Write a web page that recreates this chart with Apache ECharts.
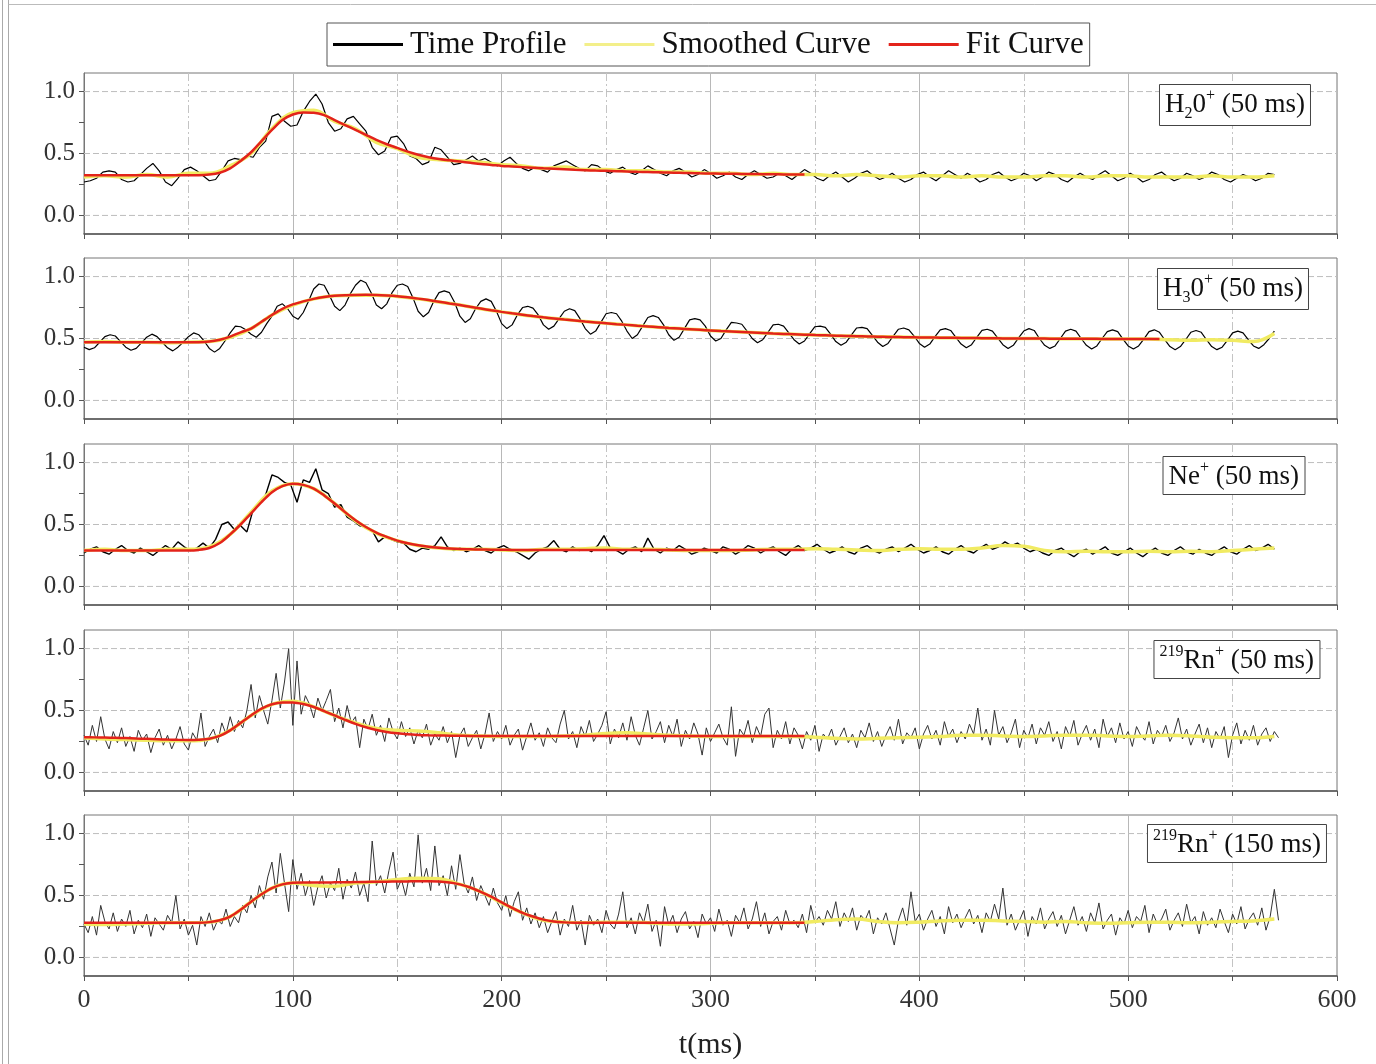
<!DOCTYPE html>
<html>
<head>
<meta charset="utf-8">
<script src="https://cdn.jsdelivr.net/npm/echarts@6/dist/echarts.min.js"></script>
<style>
html,body{margin:0;padding:0;background:#fff;}
#chart{width:1376px;height:1064px;}
</style>
</head>
<body>
<div id="chart"></div>
<script>
// ---------------- DATA ----------------
const SERIES_NAMES = ['Time Profile', 'Smoothed Curve', 'Fit Curve'];
const X_TICKS = [0, 100, 200, 300, 400, 500, 600];
const Y_LABELS = [0, 0.5, 1.0];
const Y_TICKS = [0, 0.25, 0.5, 0.75, 1.0];

const STEP_H2O = 3, STEP_H3O = 2.5, STEP_NE = 3, STEP_RN = 2;
const STEP_SMOOTH = 10, STEP_FIT = 5;

const h2oProfile = [
0.27,0.28,0.30,0.35,0.36,0.35,0.29,0.27,0.28,0.33,
0.38,0.42,0.36,0.27,0.24,0.30,0.37,0.39,0.36,0.32,
0.28,0.29,0.36,0.44,0.46,0.45,0.48,0.47,0.55,0.60,
0.80,0.82,0.76,0.72,0.73,0.84,0.92,0.98,0.90,0.75,
0.68,0.70,0.78,0.80,0.74,0.68,0.55,0.49,0.52,0.63,
0.64,0.58,0.48,0.46,0.41,0.43,0.55,0.53,0.47,0.41,
0.42,0.45,0.48,0.44,0.46,0.43,0.40,0.44,0.47,0.42,
0.38,0.36,0.39,0.37,0.35,0.40,0.42,0.44,0.41,0.38,
0.36,0.41,0.40,0.36,0.34,0.37,0.39,0.35,0.33,0.36,
0.40,0.37,0.34,0.32,0.36,0.38,0.35,0.31,0.33,0.37,
0.34,0.30,0.32,0.35,0.31,0.29,0.33,0.36,0.33,0.30,
0.31,0.34,0.32,0.29,0.33,0.37,0.34,0.30,0.28,0.32,
0.35,0.31,0.27,0.30,0.34,0.36,0.32,0.29,0.31,0.34,
0.30,0.27,0.29,0.33,0.35,0.31,0.28,0.32,0.36,0.33,
0.30,0.34,0.31,0.27,0.29,0.33,0.35,0.31,0.28,0.30,
0.34,0.32,0.28,0.31,0.35,0.33,0.29,0.27,0.31,0.34,
0.31,0.29,0.33,0.36,0.32,0.28,0.30,0.34,0.31,0.27,
0.29,0.33,0.35,0.31,0.28,0.30,0.34,0.32,0.29,0.31,
0.35,0.33,0.29,0.27,0.30,0.33,0.31,0.28,0.30,0.34,
0.33];
const h2oSmooth = [0.31,0.32,0.31,0.33,0.31,0.34,0.34,0.40,0.50,0.70,
0.83,0.85,0.76,0.70,0.59,0.54,0.47,0.45,0.44,0.43,
0.41,0.40,0.38,0.39,0.37,0.37,0.36,0.36,0.35,0.35,
0.34,0.34,0.33,0.34,0.33,0.33,0.32,0.33,0.32,0.31,
0.32,0.32,0.31,0.32,0.31,0.31,0.32,0.32,0.31,0.32,
0.32,0.31,0.31,0.31,0.32,0.31,0.31,0.32];
const h2oFit = [0.325,0.325,0.325,0.325,0.325,0.325,0.325,0.325,0.325,0.325,0.325,0.325,
0.33,0.345,0.38,0.44,0.51,0.60,0.69,0.77,0.815,0.832,
0.83,0.81,0.77,0.73,0.69,0.65,0.61,0.575,0.545,0.515,
0.49,0.47,0.455,0.445,0.435,0.425,0.415,0.408,0.40,0.395,
0.39,0.385,0.38,0.376,0.372,0.368,0.365,0.362,0.36,0.357,
0.355,0.352,0.35,0.348,0.346,0.344,0.342,0.34,0.339,0.337,
0.336,0.335,0.334,0.333,0.332,0.331,0.33,0.33];

const h3oProfile = [
0.43,0.41,0.425,0.47,0.515,
0.53,0.52,0.475,0.43,0.405,0.42,0.465,0.51,
0.535,0.515,0.47,0.425,0.40,0.43,0.47,0.515,
0.545,0.53,0.48,0.42,0.39,0.42,0.48,0.545,
0.60,0.595,0.57,0.535,0.51,0.55,0.62,0.68,
0.76,0.78,0.74,0.68,0.655,0.71,0.80,0.90,
0.94,0.93,0.85,0.76,0.725,0.77,0.86,0.93,
0.97,0.95,0.87,0.77,0.74,0.78,0.87,0.93,
0.94,0.92,0.83,0.72,0.675,0.71,0.80,0.87,
0.885,0.87,0.79,0.68,0.63,0.66,0.74,0.80,
0.82,0.80,0.72,0.62,0.58,0.61,0.69,0.75,
0.76,0.745,0.69,0.61,0.575,0.60,0.66,0.72,
0.74,0.725,0.66,0.58,0.535,0.56,0.63,0.70,
0.71,0.70,0.64,0.56,0.50,0.53,0.60,0.67,
0.685,0.67,0.61,0.53,0.485,0.51,0.58,0.65,
0.66,0.65,0.60,0.52,0.48,0.50,0.57,0.63,
0.625,0.615,0.56,0.50,0.465,0.49,0.55,0.61,
0.615,0.60,0.545,0.49,0.455,0.48,0.54,0.595,
0.60,0.59,0.535,0.475,0.445,0.47,0.53,0.585,
0.59,0.58,0.525,0.47,0.435,0.46,0.52,0.575,
0.585,0.57,0.52,0.46,0.43,0.455,0.515,0.57,
0.58,0.565,0.51,0.455,0.425,0.45,0.51,0.565,
0.575,0.56,0.505,0.45,0.42,0.445,0.505,0.56,
0.58,0.565,0.50,0.445,0.42,0.44,0.50,0.56,
0.575,0.56,0.50,0.445,0.415,0.44,0.50,0.555,
0.57,0.555,0.495,0.44,0.415,0.44,0.495,0.555,
0.57,0.55,0.49,0.435,0.41,0.435,0.49,0.55,
0.565,0.55,0.49,0.435,0.41,0.43,0.485,0.545,
0.56,0.545,0.49,0.44,0.42,0.45,0.50,0.56];
const h3oSmooth = [0.47,0.475,0.47,0.47,0.465,0.47,0.475,0.51,0.58,0.69,
0.77,0.82,0.845,0.85,0.85,0.84,0.82,0.795,0.77,0.74,
0.715,0.69,0.67,0.655,0.637,0.623,0.61,0.597,0.585,0.575,
0.565,0.556,0.548,0.54,0.534,0.528,0.523,0.519,0.515,0.512,
0.509,0.507,0.505,0.503,0.501,0.50,0.499,0.498,0.497,0.496,
0.496,0.495,0.49,0.485,0.49,0.485,0.475,0.54];
const h3oFit = [0.47,0.47,0.47,0.47,0.47,0.47,0.47,0.47,0.47,0.47,0.47,0.47,
0.475,0.49,0.515,0.55,0.58,0.635,0.69,0.74,0.775,0.80,
0.82,0.835,0.845,0.85,0.852,0.853,0.852,0.848,0.842,0.833,
0.822,0.81,0.797,0.783,0.77,0.756,0.742,0.728,0.715,0.703,
0.692,0.681,0.671,0.662,0.653,0.645,0.637,0.63,0.623,0.616,
0.61,0.603,0.597,0.591,0.585,0.58,0.575,0.57,0.565,0.56,
0.556,0.552,0.548,0.544,0.54,0.537,0.534,0.531,0.528,0.526,
0.523,0.521,0.519,0.517,0.515,0.513,0.512,0.51,0.509,0.508,
0.507,0.506,0.505,0.504,0.503,0.502,0.501,0.50,0.50,0.499,
0.499,0.498,0.498,0.497,0.497,0.497,0.496,0.496,0.496,0.495,
0.495,0.495];

const neProfile = [
0.27,0.30,0.32,0.28,0.26,0.30,0.33,0.29,0.27,0.31,
0.28,0.25,0.29,0.33,0.30,0.36,0.32,0.29,0.31,0.35,
0.31,0.38,0.50,0.52,0.46,0.49,0.44,0.62,0.67,0.74,
0.90,0.88,0.84,0.82,0.68,0.86,0.84,0.95,0.78,0.75,
0.64,0.66,0.56,0.53,0.49,0.48,0.45,0.36,0.40,0.38,
0.36,0.35,0.30,0.28,0.31,0.30,0.33,0.40,0.32,0.29,
0.31,0.28,0.30,0.33,0.29,0.27,0.31,0.33,0.30,0.28,
0.25,0.22,0.27,0.30,0.32,0.37,0.30,0.28,0.32,0.29,
0.31,0.28,0.33,0.41,0.31,0.29,0.26,0.30,0.32,0.28,
0.39,0.30,0.27,0.31,0.29,0.33,0.30,0.26,0.28,0.31,
0.29,0.27,0.32,0.30,0.26,0.29,0.33,0.31,0.27,0.30,
0.32,0.28,0.25,0.30,0.33,0.29,0.31,0.34,0.30,0.27,
0.29,0.32,0.28,0.26,0.31,0.33,0.29,0.27,0.30,0.32,
0.28,0.31,0.34,0.30,0.27,0.29,0.32,0.28,0.26,0.30,
0.33,0.29,0.27,0.31,0.34,0.30,0.32,0.36,0.33,0.35,
0.31,0.28,0.30,0.27,0.25,0.29,0.31,0.27,0.24,0.28,
0.30,0.26,0.29,0.32,0.27,0.25,0.28,0.31,0.27,0.24,
0.28,0.31,0.27,0.25,0.29,0.32,0.28,0.26,0.30,0.27,
0.25,0.29,0.32,0.28,0.26,0.30,0.33,0.29,0.31,0.34,
0.30];
const neSmooth = [0.29,0.30,0.29,0.29,0.30,0.30,0.32,0.42,0.60,0.77,
0.83,0.79,0.67,0.53,0.43,0.37,0.33,0.31,0.30,0.30,
0.295,0.29,0.30,0.30,0.305,0.31,0.30,0.30,0.295,0.29,
0.29,0.29,0.295,0.30,0.30,0.305,0.30,0.295,0.29,0.30,
0.305,0.30,0.30,0.31,0.33,0.325,0.29,0.28,0.285,0.28,
0.28,0.285,0.28,0.285,0.28,0.29,0.30,0.31];
const neFit = [0.29,0.29,0.29,0.29,0.29,0.29,0.29,0.29,0.29,0.29,0.29,
0.295,0.31,0.35,0.42,0.50,0.59,0.68,0.76,0.81,0.83,
0.82,0.79,0.735,0.67,0.60,0.535,0.48,0.435,0.40,0.37,
0.348,0.332,0.32,0.312,0.306,0.302,0.30,0.298,0.297,0.296,
0.295,0.295,0.295,0.295,0.295,0.295,0.295,0.295,0.295,0.295,
0.295,0.295,0.295,0.295,0.295,0.295,0.295,0.295,0.295,0.295,
0.295,0.295,0.295,0.295,0.295,0.295,0.295,0.295,0.295];

const rn50Profile = [
0.30,0.22,0.38,0.25,0.45,0.27,0.19,0.33,0.24,0.36,
0.21,0.29,0.17,0.34,0.26,0.31,0.16,0.28,0.35,0.22,
0.30,0.19,0.27,0.37,0.23,0.18,0.32,0.26,0.48,0.21,
0.29,0.35,0.24,0.40,0.31,0.45,0.33,0.42,0.36,0.50,
0.71,0.44,0.62,0.50,0.39,0.58,0.80,0.52,0.73,1.00,
0.38,0.90,0.47,0.62,0.55,0.44,0.60,0.50,0.58,0.67,
0.41,0.52,0.36,0.54,0.40,0.45,0.20,0.43,0.35,0.47,
0.30,0.38,0.25,0.44,0.33,0.27,0.41,0.29,0.36,0.23,
0.34,0.28,0.39,0.22,0.31,0.26,0.37,0.24,0.33,0.12,
0.30,0.36,0.21,0.28,0.34,0.19,0.31,0.48,0.25,0.33,
0.27,0.38,0.22,0.30,0.35,0.18,0.29,0.40,0.26,0.32,
0.21,0.36,0.28,0.24,0.39,0.50,0.27,0.33,0.20,0.37,
0.29,0.42,0.25,0.31,0.38,0.49,0.23,0.35,0.28,0.40,
0.26,0.45,0.30,0.22,0.36,0.50,0.27,0.33,0.41,0.24,
0.38,0.29,0.43,0.21,0.34,0.27,0.40,0.31,0.14,0.36,
0.25,0.32,0.39,0.28,0.22,0.53,0.13,0.35,0.30,0.42,
0.24,0.37,0.29,0.47,0.52,0.20,0.34,0.27,0.41,0.23,
0.36,0.30,0.19,0.33,0.26,0.38,0.17,0.31,0.27,0.35,
0.22,0.29,0.36,0.24,0.31,0.20,0.34,0.28,0.40,0.25,
0.33,0.21,0.30,0.37,0.26,0.43,0.23,0.32,0.28,0.36,
0.19,0.31,0.38,0.27,0.34,0.22,0.41,0.29,0.35,0.24,
0.33,0.27,0.39,0.31,0.52,0.26,0.35,0.22,0.50,0.30,
0.37,0.24,0.32,0.43,0.20,0.34,0.28,0.39,0.23,0.36,
0.30,0.41,0.25,0.33,0.19,0.37,0.29,0.42,0.22,0.31,
0.38,0.26,0.35,0.20,0.43,0.29,0.36,0.24,0.40,0.27,
0.33,0.21,0.37,0.30,0.26,0.41,0.23,0.34,0.29,0.38,
0.25,0.32,0.44,0.27,0.35,0.22,0.31,0.39,0.24,0.36,
0.20,0.33,0.27,0.37,0.12,0.30,0.40,0.23,0.34,0.26,
0.38,0.22,0.31,0.36,0.25,0.33,0.28];
const rn50Smooth = [0.28,0.27,0.265,0.26,0.255,0.255,0.27,0.34,0.46,0.55,
0.575,0.53,0.46,0.40,0.355,0.34,0.335,0.32,0.30,0.295,
0.29,0.29,0.29,0.295,0.30,0.315,0.32,0.31,0.30,0.295,
0.29,0.29,0.29,0.29,0.29,0.285,0.275,0.27,0.275,0.28,
0.285,0.29,0.30,0.30,0.295,0.29,0.295,0.30,0.30,0.295,
0.29,0.295,0.30,0.295,0.285,0.28,0.28,0.29];
const rn50Fit = [0.285,0.283,0.281,0.279,0.277,0.274,0.271,0.268,0.265,0.263,
0.262,0.264,0.272,0.295,0.34,0.40,0.46,0.515,0.55,0.565,
0.565,0.552,0.528,0.495,0.46,0.425,0.392,0.365,0.343,0.327,
0.316,0.308,0.303,0.30,0.298,0.297,0.296,0.295,0.295,0.294,
0.294,0.294,0.294,0.294,0.294,0.294,0.294,0.294,0.294,0.294,
0.294,0.294,0.294,0.294,0.294,0.294,0.294,0.294,0.294,0.294,
0.294,0.294,0.294,0.294,0.294,0.294,0.294,0.294,0.294,0.294];

const rn150Profile = [
0.27,0.20,0.33,0.18,0.42,0.29,0.23,0.36,0.21,0.31,
0.25,0.38,0.19,0.30,0.24,0.35,0.17,0.32,0.27,0.22,
0.34,0.28,0.50,0.23,0.31,0.18,0.26,0.10,0.33,0.25,
0.36,0.22,0.30,0.27,0.39,0.25,0.33,0.28,0.42,0.36,
0.50,0.40,0.58,0.47,0.65,0.77,0.52,0.84,0.60,0.37,
0.79,0.55,0.68,0.50,0.62,0.42,0.57,0.66,0.48,0.60,
0.54,0.72,0.47,0.63,0.56,0.69,0.50,0.60,0.45,0.94,
0.58,0.66,0.52,0.70,0.85,0.55,0.63,0.50,0.68,0.57,
0.99,0.60,0.72,0.54,0.90,0.58,0.66,0.50,0.74,0.55,
0.83,0.60,0.52,0.65,0.46,0.58,0.50,0.42,0.56,0.44,
0.38,0.50,0.33,0.45,0.53,0.30,0.40,0.27,0.36,0.24,
0.33,0.20,0.29,0.37,0.18,0.31,0.25,0.42,0.22,0.30,
0.10,0.34,0.26,0.31,0.20,0.38,0.27,0.23,0.35,0.53,
0.24,0.32,0.19,0.36,0.28,0.43,0.21,0.30,0.09,0.41,
0.26,0.34,0.20,0.31,0.37,0.23,0.29,0.16,0.35,0.27,
0.32,0.21,0.39,0.26,0.30,0.17,0.34,0.28,0.40,0.23,
0.31,0.45,0.25,0.36,0.19,0.29,0.33,0.22,0.38,0.27,
0.30,0.24,0.35,0.20,0.42,0.28,0.33,0.26,0.38,0.31,
0.45,0.25,0.36,0.29,0.40,0.22,0.34,0.30,0.38,0.19,
0.32,0.27,0.36,0.23,0.10,0.30,0.40,0.26,0.53,0.29,
0.35,0.22,0.31,0.38,0.25,0.33,0.19,0.41,0.28,0.35,
0.24,0.32,0.39,0.27,0.34,0.20,0.36,0.29,0.43,0.31,
0.56,0.26,0.35,0.22,0.30,0.38,0.17,0.33,0.27,0.40,
0.23,0.31,0.37,0.25,0.34,0.19,0.30,0.41,0.26,0.33,
0.21,0.36,0.28,0.44,0.23,0.30,0.35,0.18,0.32,0.27,
0.38,0.24,0.33,0.29,0.42,0.20,0.35,0.27,0.31,0.39,
0.22,0.30,0.36,0.25,0.43,0.28,0.33,0.19,0.37,0.26,
0.32,0.24,0.39,0.29,0.20,0.35,0.27,0.41,0.23,0.31,
0.36,0.26,0.40,0.22,0.33,0.55,0.30];
const rn150Smooth = [0.27,0.265,0.27,0.275,0.28,0.28,0.285,0.33,0.45,0.56,
0.60,0.58,0.575,0.60,0.61,0.63,0.64,0.635,0.59,0.53,
0.44,0.36,0.30,0.285,0.28,0.285,0.285,0.28,0.27,0.27,
0.275,0.28,0.28,0.28,0.28,0.29,0.305,0.31,0.29,0.28,
0.285,0.295,0.30,0.30,0.295,0.29,0.285,0.29,0.28,0.275,
0.28,0.285,0.285,0.28,0.285,0.29,0.295,0.31];
const rn150Fit = [0.28,0.28,0.28,0.28,0.28,0.28,0.28,0.28,0.28,0.28,0.28,0.28,
0.285,0.30,0.33,0.385,0.45,0.51,0.56,0.59,0.602,0.605,
0.605,0.605,0.606,0.607,0.608,0.61,0.611,0.612,0.613,0.614,
0.615,0.615,0.613,0.605,0.59,0.565,0.53,0.49,0.445,0.40,
0.36,0.33,0.305,0.29,0.283,0.28,
0.28,0.28,0.28,0.28,0.28,0.28,0.28,0.28,0.28,0.28,0.28,
0.28,0.28,0.28,0.28,0.28,0.28,0.28,0.28,0.28,0.28,0.28];

const PANEL_LABELS = [
  '{a|H}{sub|2}{a|0}{sup|+}{a| (50 ms)}',
  '{a|H}{sub|3}{a|0}{sup|+}{a| (50 ms)}',
  '{a|Ne}{sup|+}{a| (50 ms)}',
  '{sup|219}{a|Rn}{sup|+}{a| (50 ms)}',
  '{sup|219}{a|Rn}{sup|+}{a| (150 ms)}'
];

const PANELS = [
  {profile: h2oProfile, pStep: STEP_H2O, smooth: h2oSmooth, fit: h2oFit, pColor: '#000', pWidth: 1.2},
  {profile: h3oProfile, pStep: STEP_H3O, smooth: h3oSmooth, fit: h3oFit, pColor: '#000', pWidth: 1.2},
  {profile: neProfile, pStep: STEP_NE, smooth: neSmooth, fit: neFit, pColor: '#000', pWidth: 1.4},
  {profile: rn50Profile, pStep: STEP_RN, smooth: rn50Smooth, fit: rn50Fit, pColor: '#333', pWidth: 1},
  {profile: rn150Profile, pStep: STEP_RN, smooth: rn150Smooth, fit: rn150Fit, pColor: '#333', pWidth: 1}
];

const FONT = "'Liberation Serif','Times New Roman',serif";
const GRID_TOPS = [73, 258, 444, 630, 815];
const GRID_H = 161;
const LABEL_POS = [
  {right: 65, top: 84}, {right: 67, top: 268}, {right: 71, top: 456},
  {right: 56, top: 640}, {right: 49, top: 824}
];

function pairs(vals, step) {
  return vals.map((v, i) => [i * step, v]);
}

const X_MIN = X_TICKS[0], X_MAX = X_TICKS[X_TICKS.length - 1];
const grids = [], xAxes = [], yAxes = [], series = [], titles = [];
PANELS.forEach((p, i) => {
  const last = i === PANELS.length - 1;
  grids.push({left: 84, right: 39, top: GRID_TOPS[i], height: GRID_H,
    show: true, borderColor: '#777', borderWidth: 1, backgroundColor: 'transparent',
    containLabel: false, outerBoundsMode: 'none'});
  xAxes.push({
    type: 'value', gridIndex: i, min: X_MIN, max: X_MAX, interval: 100,
    axisLine: {show: true, onZero: false, lineStyle: {color: '#555', width: 1.5}},
    axisTick: {show: true, inside: false, length: 5, lineStyle: {color: '#555'}},
    minorTick: {show: true, splitNumber: 2, length: 5, lineStyle: {color: '#555'}},
    splitLine: {show: true, lineStyle: {color: '#b8b8b8', width: 1}},
    minorSplitLine: {show: true, lineStyle: {color: '#c4c4c4', width: 1, type: [8, 3, 2, 3]}},
    axisLabel: {show: last, fontFamily: FONT, fontSize: 26, color: '#333', margin: 11},
    name: last ? 't(ms)' : '', nameLocation: 'middle', nameGap: 54,
    nameTextStyle: {fontFamily: FONT, fontSize: 30, color: '#222'}
  });
  yAxes.push({
    type: 'value', gridIndex: i, min: -0.15, max: 1.15,
    axisLine: {show: true, lineStyle: {color: '#777'}},
    axisTick: {show: true, inside: false, length: 5, customValues: Y_TICKS, lineStyle: {color: '#555'}},
    axisLabel: {fontFamily: FONT, fontSize: 25, color: '#333', margin: 9, customValues: Y_LABELS,
      formatter: v => Number(v).toFixed(1)},
    splitLine: {show: false},
    minorSplitLine: {show: false},
    splitArea: {show: false}
  });
  // dashed horizontal reference lines at the labelled y values, spanning the x axis
  Y_LABELS.forEach(v => {
    series.push({
      name: 'ref-' + v, type: 'line', xAxisIndex: i, yAxisIndex: i, z: 1, silent: true,
      data: [[X_MIN, v], [X_MAX, v]], showSymbol: false, symbol: 'none',
      lineStyle: {color: '#bdbdbd', width: 1, type: [6, 3]}, itemStyle: {color: '#bdbdbd'},
      emphasis: {disabled: true}, animation: false, tooltip: {show: false}
    });
  });
  series.push({
    name: SERIES_NAMES[0], type: 'line', xAxisIndex: i, yAxisIndex: i,
    data: pairs(p.profile, p.pStep), showSymbol: false, symbol: 'none', z: 2,
    lineStyle: {color: p.pColor, width: p.pWidth}, itemStyle: {color: '#000'},
    emphasis: {disabled: true}, animation: false
  });
  series.push({
    name: SERIES_NAMES[1], type: 'line', xAxisIndex: i, yAxisIndex: i,
    data: pairs(p.smooth, STEP_SMOOTH), showSymbol: false, symbol: 'none', smooth: 0.4, z: 3,
    lineStyle: {color: '#f1eb62', width: 3.5}, itemStyle: {color: '#f3ef8a'},
    emphasis: {disabled: true}, animation: false
  });
  series.push({
    name: SERIES_NAMES[2], type: 'line', xAxisIndex: i, yAxisIndex: i,
    data: pairs(p.fit, STEP_FIT), showSymbol: false, symbol: 'none', smooth: 0.3, z: 4,
    lineStyle: {color: '#e3231b', width: 2.5}, itemStyle: {color: '#e3231b'},
    emphasis: {disabled: true}, animation: false
  });
  titles.push(Object.assign({
    text: PANEL_LABELS[i],
    backgroundColor: '#fff',
    borderColor: '#444', borderWidth: 1, padding: [4, 6, 4, 6],
    textStyle: {
      fontFamily: FONT, fontSize: 27, fontWeight: 'normal', color: '#111',
      rich: {
        a: {fontFamily: FONT, fontSize: 27, fontWeight: 'normal', color: '#111', lineHeight: 34},
        sup: {fontFamily: FONT, fontSize: 16, fontWeight: 'normal', color: '#111', lineHeight: 18, verticalAlign: 'top'},
        sub: {fontFamily: FONT, fontSize: 16, fontWeight: 'normal', color: '#111', lineHeight: 18, verticalAlign: 'bottom'}
      }
    }
  }, LABEL_POS[i]));
});

const chart = echarts.init(document.getElementById('chart'), null, {renderer: 'canvas'});
chart.setOption({
  animation: false,
  backgroundColor: '#fff',
  title: titles,
  legend: {
    data: SERIES_NAMES, left: 327, top: 23,
    icon: 'rect', itemWidth: 70, itemHeight: 3, itemGap: 18,
    borderColor: '#555', borderWidth: 1, padding: [6, 6, 6, 6],
    textStyle: {fontFamily: FONT, fontSize: 31, color: '#111', padding: [0, 0, 0, 2]},
    selectedMode: false
  },
  grid: grids,
  xAxis: xAxes,
  yAxis: yAxes,
  series: series,
  graphic: [
    {type: 'line', shape: {x1: 2.5, y1: 0, x2: 2.5, y2: 1064}, style: {stroke: '#aaa', lineWidth: 1}, silent: true},
    {type: 'line', shape: {x1: 8.5, y1: 0, x2: 8.5, y2: 1064}, style: {stroke: '#aaa', lineWidth: 1}, silent: true},
    {type: 'line', shape: {x1: 8.5, y1: 4.5, x2: 1376, y2: 4.5}, style: {stroke: '#bbb', lineWidth: 1}, silent: true}
  ]
});
</script>
</body>
</html>
